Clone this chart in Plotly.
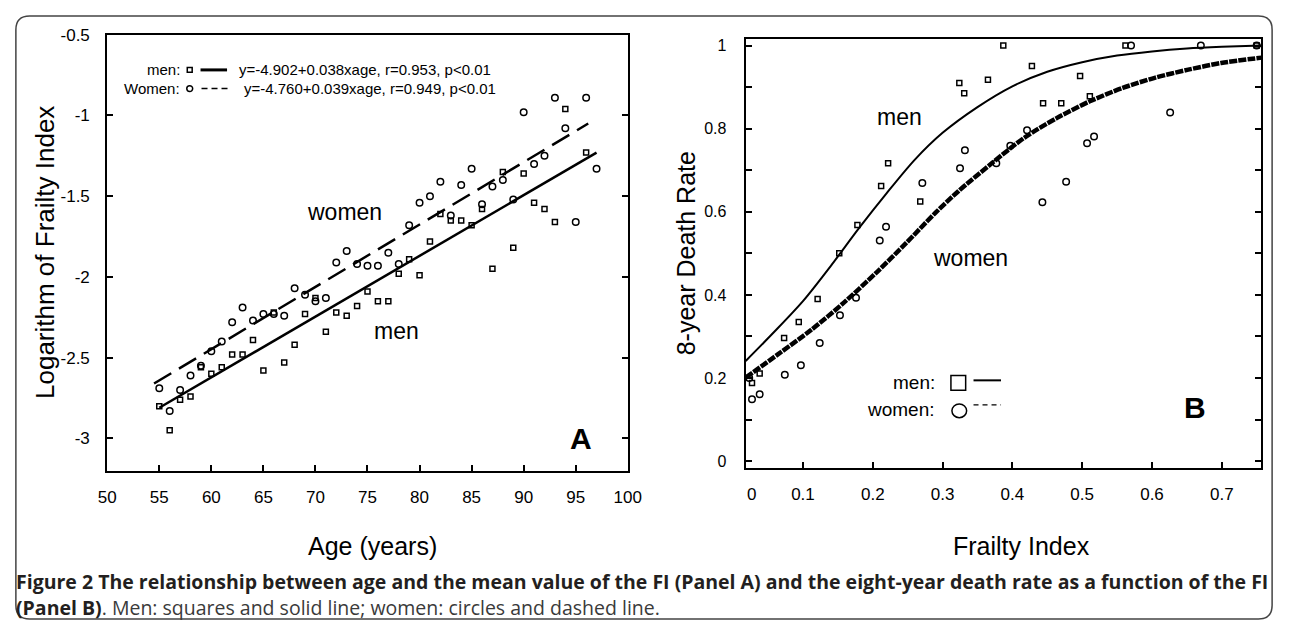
import plotly.graph_objects as go

W, H = 1292, 625

# ---------------- Panel A data ----------------
ages = list(range(55, 98))
men_logfi = [-2.80, -2.95, -2.76, -2.74, -2.56, -2.60, -2.56, -2.48, -2.48, -2.39,
             -2.58, -2.22, -2.53, -2.42, -2.23, -2.13, -2.34, -2.22, -2.24, -2.18,
             -2.09, -2.15, -2.15, -1.98, -1.89, -1.99, -1.78, -1.61, -1.65, -1.65,
             -1.68, -1.58, -1.95, -1.35, -1.82, -1.36, -1.54, -1.58, -1.66, -0.96,
             None, -1.23, None]
women_logfi = [-2.69, -2.83, -2.70, -2.61, -2.55, -2.46, -2.40, -2.28, -2.19, -2.27,
               -2.23, -2.23, -2.24, -2.07, -2.11, -2.15, -2.13, -1.91, -1.84, -1.92,
               -1.93, -1.93, -1.85, -1.92, -1.68, -1.54, -1.50, -1.41, -1.62, -1.43,
               -1.33, -1.55, -1.44, -1.40, -1.52, -0.98, -1.30, -1.25, -0.89, -1.08,
               -1.66, -0.89, -1.33]
men_fit_age = [55, 97]
men_fit_logfi = [-2.81, -1.23]
women_fit_age = [54.5, 96.2]
women_fit_logfi = [-2.66, -1.05]

a_xticks = [50, 55, 60, 65, 70, 75, 80, 85, 90, 95, 100]
a_yticks = [-3, -2.5, -2, -1.5, -1, -0.5]
a_yticktext = ["-3", "-2.5", "-2", "-1.5", "-1", "-0.5"]

# ---------------- Panel B data ----------------
men_fi = [0.027, 0.038, 0.073, 0.094, 0.121, 0.152, 0.178, 0.212, 0.222, 0.268,
          0.324, 0.331, 0.365, 0.387, 0.428, 0.444, 0.470, 0.497, 0.511, 0.562, 0.750]
men_rate = [0.188, 0.211, 0.296, 0.335, 0.390, 0.500, 0.568, 0.662, 0.717, 0.625,
            0.910, 0.885, 0.918, 1.000, 0.951, 0.861, 0.861, 0.927, 0.878, 1.000, 1.000]
women_fi = [0.023, 0.027, 0.038, 0.074, 0.097, 0.124, 0.153, 0.176, 0.210, 0.219,
            0.271, 0.325, 0.332, 0.377, 0.397, 0.421, 0.443, 0.477, 0.507, 0.517,
            0.570, 0.626, 0.670, 0.750]
women_rate = [0.200, 0.149, 0.161, 0.208, 0.231, 0.284, 0.351, 0.393, 0.531, 0.564,
              0.669, 0.705, 0.748, 0.717, 0.759, 0.796, 0.623, 0.672, 0.765, 0.781,
              1.000, 0.839, 1.000, 1.000]
men_curve_fi = [0.018, 0.06, 0.10, 0.14, 0.18, 0.22, 0.26, 0.30, 0.35, 0.40,
                0.45, 0.50, 0.55, 0.60, 0.65, 0.70, 0.757]
men_curve_rate = [0.241, 0.313, 0.385, 0.470, 0.560, 0.645, 0.725, 0.790, 0.852, 0.902,
                  0.937, 0.960, 0.976, 0.986, 0.993, 0.997, 1.000]
women_curve_fi = [0.018, 0.065, 0.112, 0.159, 0.206, 0.248, 0.290, 0.323, 0.370,
                  0.417, 0.464, 0.511, 0.558, 0.605, 0.652, 0.699, 0.757]
women_curve_rate = [0.201, 0.258, 0.316, 0.382, 0.455, 0.525, 0.598, 0.650, 0.716,
                    0.778, 0.826, 0.866, 0.898, 0.923, 0.942, 0.958, 0.971]

b_xticks = [0.1, 0.2, 0.3, 0.4, 0.5, 0.6, 0.7]
b_xticktext = ["0.1", "0.2", "0.3", "0.4", "0.5", "0.6", "0.7"]
b_x_zero_label = "0"
b_yticks = [0, 0.2, 0.4, 0.6, 0.8, 1.0]
b_yticktext = ["0", "0.2", "0.4", "0.6", "0.8", "1"]

FONT = "Liberation Sans, Arial, Helvetica, sans-serif"
CAPFONT = "Open Sans, Noto Sans, sans-serif"


def PX(x):
    return x / W


def PY(y):
    return 1 - y / H


fig = go.Figure()

# Panel A
fig.add_trace(go.Scatter(x=men_fit_age, y=men_fit_logfi, mode="lines",
                         line=dict(color="black", width=2.5), xaxis="x", yaxis="y",
                         showlegend=False, hoverinfo="skip"))
fig.add_trace(go.Scatter(x=women_fit_age, y=women_fit_logfi, mode="lines",
                         line=dict(color="black", width=2.5, dash="20px,9px"),
                         xaxis="x", yaxis="y", showlegend=False, hoverinfo="skip"))
fig.add_trace(go.Scatter(x=ages, y=men_logfi, mode="markers",
                         marker=dict(symbol="square-open", size=5, color="black",
                                     line=dict(width=1.5, color="black")),
                         xaxis="x", yaxis="y", showlegend=False))
fig.add_trace(go.Scatter(x=ages, y=women_logfi, mode="markers",
                         marker=dict(symbol="circle-open", size=6.5, color="black",
                                     line=dict(width=1.5, color="black")),
                         xaxis="x", yaxis="y", showlegend=False))

# Panel B
fig.add_trace(go.Scatter(x=men_curve_fi, y=men_curve_rate, mode="lines",
                         line=dict(color="black", width=2, shape="spline", smoothing=0.8),
                         xaxis="x2", yaxis="y2", showlegend=False, hoverinfo="skip"))
fig.add_trace(go.Scatter(x=women_curve_fi, y=women_curve_rate, mode="lines",
                         line=dict(color="#000000", width=4.5, shape="spline",
                                   smoothing=0.8, dash="8px,1.2px"),
                         xaxis="x2", yaxis="y2", showlegend=False, hoverinfo="skip"))
fig.add_trace(go.Scatter(x=men_fi, y=men_rate, mode="markers",
                         marker=dict(symbol="square-open", size=5, color="black",
                                     line=dict(width=1.5, color="black")),
                         xaxis="x2", yaxis="y2", showlegend=False))
fig.add_trace(go.Scatter(x=women_fi, y=women_rate, mode="markers",
                         marker=dict(symbol="circle-open", size=6.5, color="black",
                                     line=dict(width=1.5, color="black")),
                         xaxis="x2", yaxis="y2", showlegend=False))

axis_common = dict(showgrid=False, zeroline=False, showline=True, linecolor="black",
                   linewidth=2, ticks="inside", ticklen=6, tickwidth=1.5,
                   tickcolor="black")

fig.update_layout(
    width=W, height=H,
    margin=dict(l=0, r=0, t=0, b=0),
    paper_bgcolor="white", plot_bgcolor="white",
    xaxis=dict(domain=[PX(100), PX(630)], range=[50, 100], tickvals=a_xticks,
               mirror=True, anchor="y", ticklabelstandoff=10,
               tickfont=dict(family=FONT, size=17, color="black"), **axis_common),
    yaxis=dict(domain=[PY(470), PY(26)], range=[-3.2, -0.499], tickvals=a_yticks,
               ticktext=a_yticktext, mirror="ticks", anchor="x",
               ticklabelstandoff=12,
               tickfont=dict(family=FONT, size=17, color="black"), **axis_common),
    xaxis2=dict(domain=[PX(750), PX(1275)], range=[0.0179, 0.7566], tickvals=b_xticks,
                ticktext=b_xticktext, mirror=True, anchor="y2",
                ticklabelstandoff=10,
                tickfont=dict(family=FONT, size=17, color="black"), **axis_common),
    yaxis2=dict(domain=[PY(467), PY(31)], range=[-0.016, 1.0147], tickvals=b_yticks,
                ticktext=b_yticktext, mirror="ticks", anchor="x2",
                ticklabelstandoff=14,
                tickfont=dict(family=FONT, size=16, color="black"),
                minor=dict(dtick=0.1, tick0=0, ticks="inside", ticklen=6,
                           tickwidth=1.5, tickcolor="black"),
                **axis_common),
)

shapes = []
# outer rounded frame
l, r, t, b, rad = 7, 1286, 7, 621, 14
pts = [("M", (l + rad, t)), ("L", (r - rad, t)), ("Q", (r, t), (r, t + rad)),
       ("L", (r, b - rad)), ("Q", (r, b), (r - rad, b)), ("L", (l + rad, b)),
       ("Q", (l, b), (l, b - rad)), ("L", (l, t + rad)), ("Q", (l, t), (l + rad, t))]
path = ""
for seg in pts:
    cmd = seg[0]
    coords = " ".join(f"{PX(p[0]):.5f},{PY(p[1]):.5f}" for p in seg[1:])
    path += f"{cmd} {coords} "
path += "Z"
shapes.append(dict(type="path", path=path, xref="paper", yref="paper",
                   line=dict(color="#444444", width=1.5)))

# Panel A legend symbols
shapes.append(dict(type="rect", xref="paper", yref="paper",
                   x0=PX(181.5), x1=PX(186.5), y0=PY(64.5), y1=PY(59.5),
                   line=dict(color="black", width=1.5)))
shapes.append(dict(type="line", xref="paper", yref="paper",
                   x0=PX(195), x1=PX(222), y0=PY(62), y1=PY(62),
                   line=dict(color="black", width=3)))
shapes.append(dict(type="circle", xref="paper", yref="paper",
                   x0=PX(181), x1=PX(187), y0=PY(84), y1=PY(78),
                   line=dict(color="black", width=1.5)))
shapes.append(dict(type="line", xref="paper", yref="paper",
                   x0=PX(196), x1=PX(224), y0=PY(81), y1=PY(81),
                   line=dict(color="black", width=1.5, dash="6px,4px")))
# Panel B legend symbols
shapes.append(dict(type="rect", xref="paper", yref="paper",
                   x0=PX(959), x1=PX(974), y0=PY(388), y1=PY(373),
                   line=dict(color="black", width=1.5)))
shapes.append(dict(type="line", xref="paper", yref="paper",
                   x0=PX(982), x1=PX(1010), y0=PY(378), y1=PY(378),
                   line=dict(color="black", width=2)))
shapes.append(dict(type="circle", xref="paper", yref="paper",
                   x0=PX(960), x1=PX(975), y0=PY(416), y1=PY(402),
                   line=dict(color="black", width=1.5)))
shapes.append(dict(type="line", xref="paper", yref="paper",
                   x0=PX(982), x1=PX(1010), y0=PY(403), y1=PY(403),
                   line=dict(color="black", width=1.2, dash="5px,4px")))
fig.update_layout(shapes=shapes)


def ann(text, x, y, size, xanchor="center", yanchor="middle", angle=0,
        family=FONT, color="black"):
    return dict(text=text, x=PX(x), y=PY(y), xref="paper", yref="paper",
                showarrow=False, xanchor=xanchor, yanchor=yanchor, textangle=angle,
                font=dict(family=family, size=size, color=color))


annotations = [
    ann("Logarithm of Frailty Index", 36, 248, 26, angle=-90),
    ann("8-year Death Rate", 689, 249, 25, angle=-90),
    ann("Age (years)", 370, 547, 25),
    ann("Frailty Index", 1031, 547, 25),
    ann(b_x_zero_label, 756, 494, 17),
    ann("women", 342, 207, 23),
    ann("men", 395, 328, 23),
    ann("<b>A</b>", 582, 437, 30),
    ann("men", 907, 110, 23),
    ann("women", 979, 253, 23),
    ann("<b>B</b>", 1207, 406, 30),
    ann("men:", 176, 62, 15, xanchor="right"),
    ann("Women:", 176, 81, 15, xanchor="right"),
    ann("y=-4.902+0.038xage, r=0.953, p<0.01", 232, 62, 15, xanchor="left"),
    ann("y=-4.760+0.039xage, r=0.949, p<0.01", 237, 81, 15, xanchor="left"),
    ann("men:", 945, 380, 19, xanchor="right"),
    ann("women:", 945, 408, 19, xanchor="right"),
    ann("<b>Figure 2 The relationship between age and the mean value of the FI (Panel A) "
        "and the eight-year death rate as a function of the FI</b>",
        5, 583, 19.5, xanchor="left", family=CAPFONT, color="#231f20"),
    ann("<b>(Panel B)</b><span style='color:#3a3a3a'>. Men: squares and solid line; "
        "women: circles and dashed line.</span>",
        5, 609, 19.5, xanchor="left", family=CAPFONT, color="#231f20"),
]
fig.update_layout(annotations=annotations)

fig.write_html("out.html", config={"displayModeBar": False},
               post_script="document.body.style.margin='0';document.body.style.overflow='hidden';")
